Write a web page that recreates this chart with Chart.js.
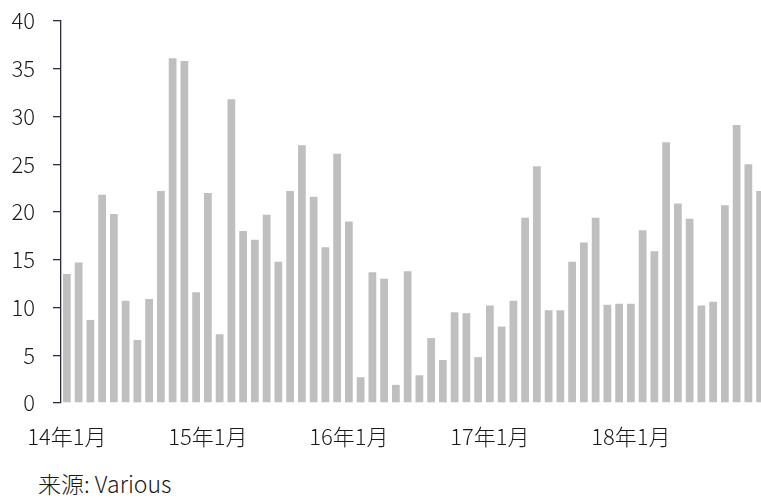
<!DOCTYPE html>
<html>
<head>
<meta charset="utf-8">
<script src="https://cdn.jsdelivr.net/npm/chart.js@4.4.1/dist/chart.umd.min.js"></script>
<style>
  html, body { margin: 0; padding: 0; background: #fff; overflow: hidden; }
  #wrap { position: absolute; left: 0; top: 0; width: 772px; height: 460px; }
  #source {
    position: absolute; left: 38px; top: 467px; line-height: 32px;
    font-family: "Noto Sans CJK SC", sans-serif; font-weight: 300; font-size: 23px; color: #1a1a1a;
  }
</style>
</head>
<body>
<div id="wrap"><canvas id="chart"></canvas></div>
<div id="source">来源: Various</div>
<script>
// months 14年1月 .. 18年12月
const years = ["14", "15", "16", "17", "18"];
const months = years.flatMap(y => Array.from({ length: 12 }, (_, m) => `${y}年${m + 1}月`));

const values = [
  13.5, 14.7, 8.7, 21.8, 19.8, 10.7, 6.6, 10.9, 22.2, 36.1, 35.8, 11.6,
  22.0, 7.2, 31.8, 18.0, 17.1, 19.7, 14.8, 22.2, 27.0, 21.6, 16.3, 26.1,
  19.0, 2.7, 13.7, 13.0, 1.9, 13.8, 2.9, 6.8, 4.5, 9.5, 9.4, 4.8,
  10.2, 8.0, 10.7, 19.4, 24.8, 9.7, 9.7, 14.8, 16.8, 19.4, 10.3, 10.4,
  10.4, 18.1, 15.9, 27.3, 20.9, 19.3, 10.2, 10.6, 20.7, 29.1, 25.0, 22.2
];

const yTicks = [0, 5, 10, 15, 20, 25, 30, 35, 40];

const labelFont = { family: "'Noto Sans CJK SC', sans-serif", size: 22, weight: "300" };
const inkColor = "#1a1a1a";
const axisColor = "#2b2d3a";

const ctx = document.getElementById("chart").getContext("2d");
new Chart(ctx, {
  type: "bar",
  data: {
    labels: months,
    datasets: [{
      data: values,
      backgroundColor: "#bfbfbf",
      borderWidth: 0,
      barPercentage: 0.66,
      categoryPercentage: 1.0,
    }],
  },
  options: {
    responsive: true,
    maintainAspectRatio: false,
    animation: false,
    layout: { padding: { left: 10, right: 6, top: 21, bottom: 7 } },
    plugins: { legend: { display: false }, tooltip: { enabled: false } },
    scales: {
      x: {
        grid: { display: false },
        border: { display: false },
        // keep the edge labels from pushing the plot area around
        afterFit: axis => { axis.paddingLeft = 0; axis.paddingRight = 0; axis.height = 50; },
        ticks: {
          autoSkip: false,
          maxRotation: 0,
          padding: 12,
          color: inkColor,
          font: labelFont,
          // only January gets a label
          callback: (v, i) => (i % 12 === 0 ? months[i] : ""),
        },
      },
      y: {
        min: 0,
        max: 40,
        afterBuildTicks: axis => { axis.ticks = yTicks.map(v => ({ value: v })); },
        afterFit: axis => { axis.width = 51; axis.paddingTop = 0; axis.paddingBottom = 0; },
        grid: { drawOnChartArea: false, drawTicks: true, tickLength: 8, color: axisColor, lineWidth: 1.3 },
        border: { display: true, color: axisColor, width: 1.3 },
        ticks: { padding: 18, color: inkColor, font: labelFont },
      },
    },
  },
});
</script>
</body>
</html>
